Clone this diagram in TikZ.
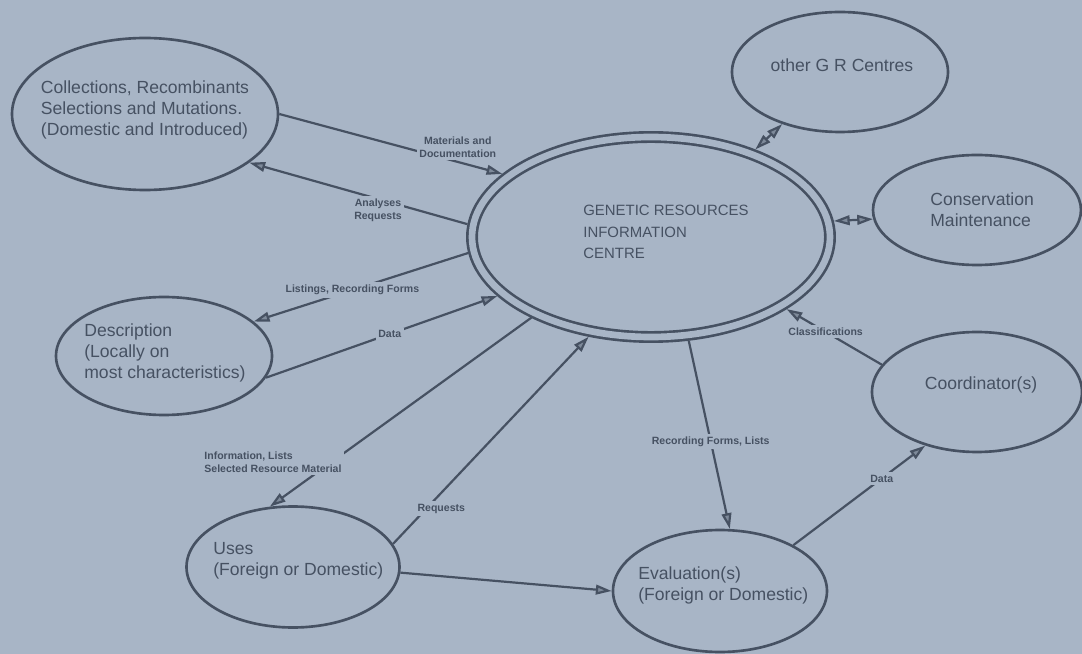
\documentclass[tikz,border=0pt]{standalone}
\usepackage{fontspec}
\setmainfont{Liberation Sans}
\usepackage{tikz}
\usetikzlibrary{shapes.geometric, arrows.meta}
\definecolor{paper}{HTML}{A8B5C6}
\definecolor{ink}{HTML}{465162}
\definecolor{tipfill}{HTML}{7E8A9A}

\begin{document}
\begin{tikzpicture}[
		blob/.style={ellipse, draw=ink, line width=1.5pt, inner sep=0pt},
		txt/.style={text=ink, align=left, inner sep=0pt, font=\fontsize{10}{12}\selectfont},
		lbl/.style={text=ink, fill=paper, align=center, inner sep=1.5pt, font=\bfseries\fontsize{6}{7.4}\selectfont},
		link/.style={draw=ink, line width=1.25pt},
		>={Triangle[length=9pt, width=5.5pt, fill=tipfill]}
		]
	
		% fond
		\fill[paper] (0,0) rectangle (21.64,-13.08);
		\useasboundingbox (0,0) rectangle (21.64,-13.08);
	
		% Ellipses
		\node[blob, minimum width=5.32cm, minimum height=3.04cm] (coll) at (2.90,-2.28) {};
		\node[blob, double=paper, double distance=3.8pt, outer sep=3.4pt, minimum width=7.16cm, minimum height=4.0cm] (gric) at (13.02,-4.74) {};
		\node[blob, minimum width=4.32cm, minimum height=2.40cm] (grc) at (16.80,-1.44) {};
		\node[blob, minimum width=4.16cm, minimum height=2.20cm] (cons) at (19.54,-4.20) {};
		\node[blob, minimum width=4.20cm, minimum height=2.40cm] (coord) at (19.54,-7.84) {};
		\node[blob, minimum width=4.32cm, minimum height=2.36cm] (desc) at (3.28,-7.12) {};
		\node[blob, minimum width=4.26cm, minimum height=2.42cm] (uses) at (5.86,-11.34) {};
		\node[blob, minimum width=4.28cm, minimum height=2.44cm] (eval) at (14.40,-11.82) {};
	
		% Textes
		\node[txt] (colltxt) at (2.90,-2.20) {Collections, Recombinants\\Selections and Mutations.\\(Domestic and Introduced)};
		\node[txt, anchor=west, font=\fontsize{8.5}{12.2}\selectfont] (grictxt) at (11.66,-4.64) {GENETIC RESOURCES\\INFORMATION\\CENTRE};
		\node[txt] (grctxt) at (16.84,-1.30) {other G R Centres};
		\node[txt, anchor=west] (constxt) at (18.60,-4.20) {Conservation\\Maintenance};
		\node[txt] (coordtxt) at (19.62,-7.70) {Coordinator(s)};
		\node[txt, anchor=west] (desctxt) at (1.68,-7.06) {Description\\(Locally on\\most characteristics)};
		\node[txt, anchor=west] (usestxt) at (4.26,-11.22) {Uses\\(Foreign or Domestic)};
		\node[txt, anchor=west] (evaltxt) at (12.76,-11.70) {Evaluation(s)\\(Foreign or Domestic)};
	
		% Liaisons
		\draw[link, ->] (coll.east) -- (gric.157) node[lbl, pos=0.8, yshift=0.3cm] {Materials and\\Documentation};
		\draw[link, ->] (gric.176) -- (coll.335) node[lbl, pos=0.41, yshift=-0.22cm] {Analyses\\Requests};
		\draw[link, ->] (gric.185) -- (desc.21) node[lbl, pos=0.54] {Listings, Recording Forms};
		\draw[link, ->] (desc.348) -- (gric.201) node[lbl, pos=0.535] {Data};
		\draw[link, ->] (gric.214) -- (uses.111) node[lbl, align=left, pos=0.765, anchor=east, xshift=0.28cm] {Information, Lists\\Selected Resource Material};
		\draw[link, ->] (uses.13) -- (gric.238) node[lbl, pos=0.17, xshift=0.3cm] {Requests};
		\draw[link, ->] (uses.357) -- (eval.west);
		\draw[link, ->] (gric.290) -- (eval.81) node[lbl, pos=0.535] {Recording Forms, Lists};
		\draw[link, ->] (eval.32) -- (coord.226) node[lbl, pos=0.67] {Data};
		\draw[link, ->] (coord.164) -- (gric.332) node[lbl, pos=0.59] {Classifications};
		\draw[link, <->] (gric.40) -- (grc.222);
		\draw[link, <->] (gric.5) -- (cons.185);
	\end{tikzpicture}
\end{document}
